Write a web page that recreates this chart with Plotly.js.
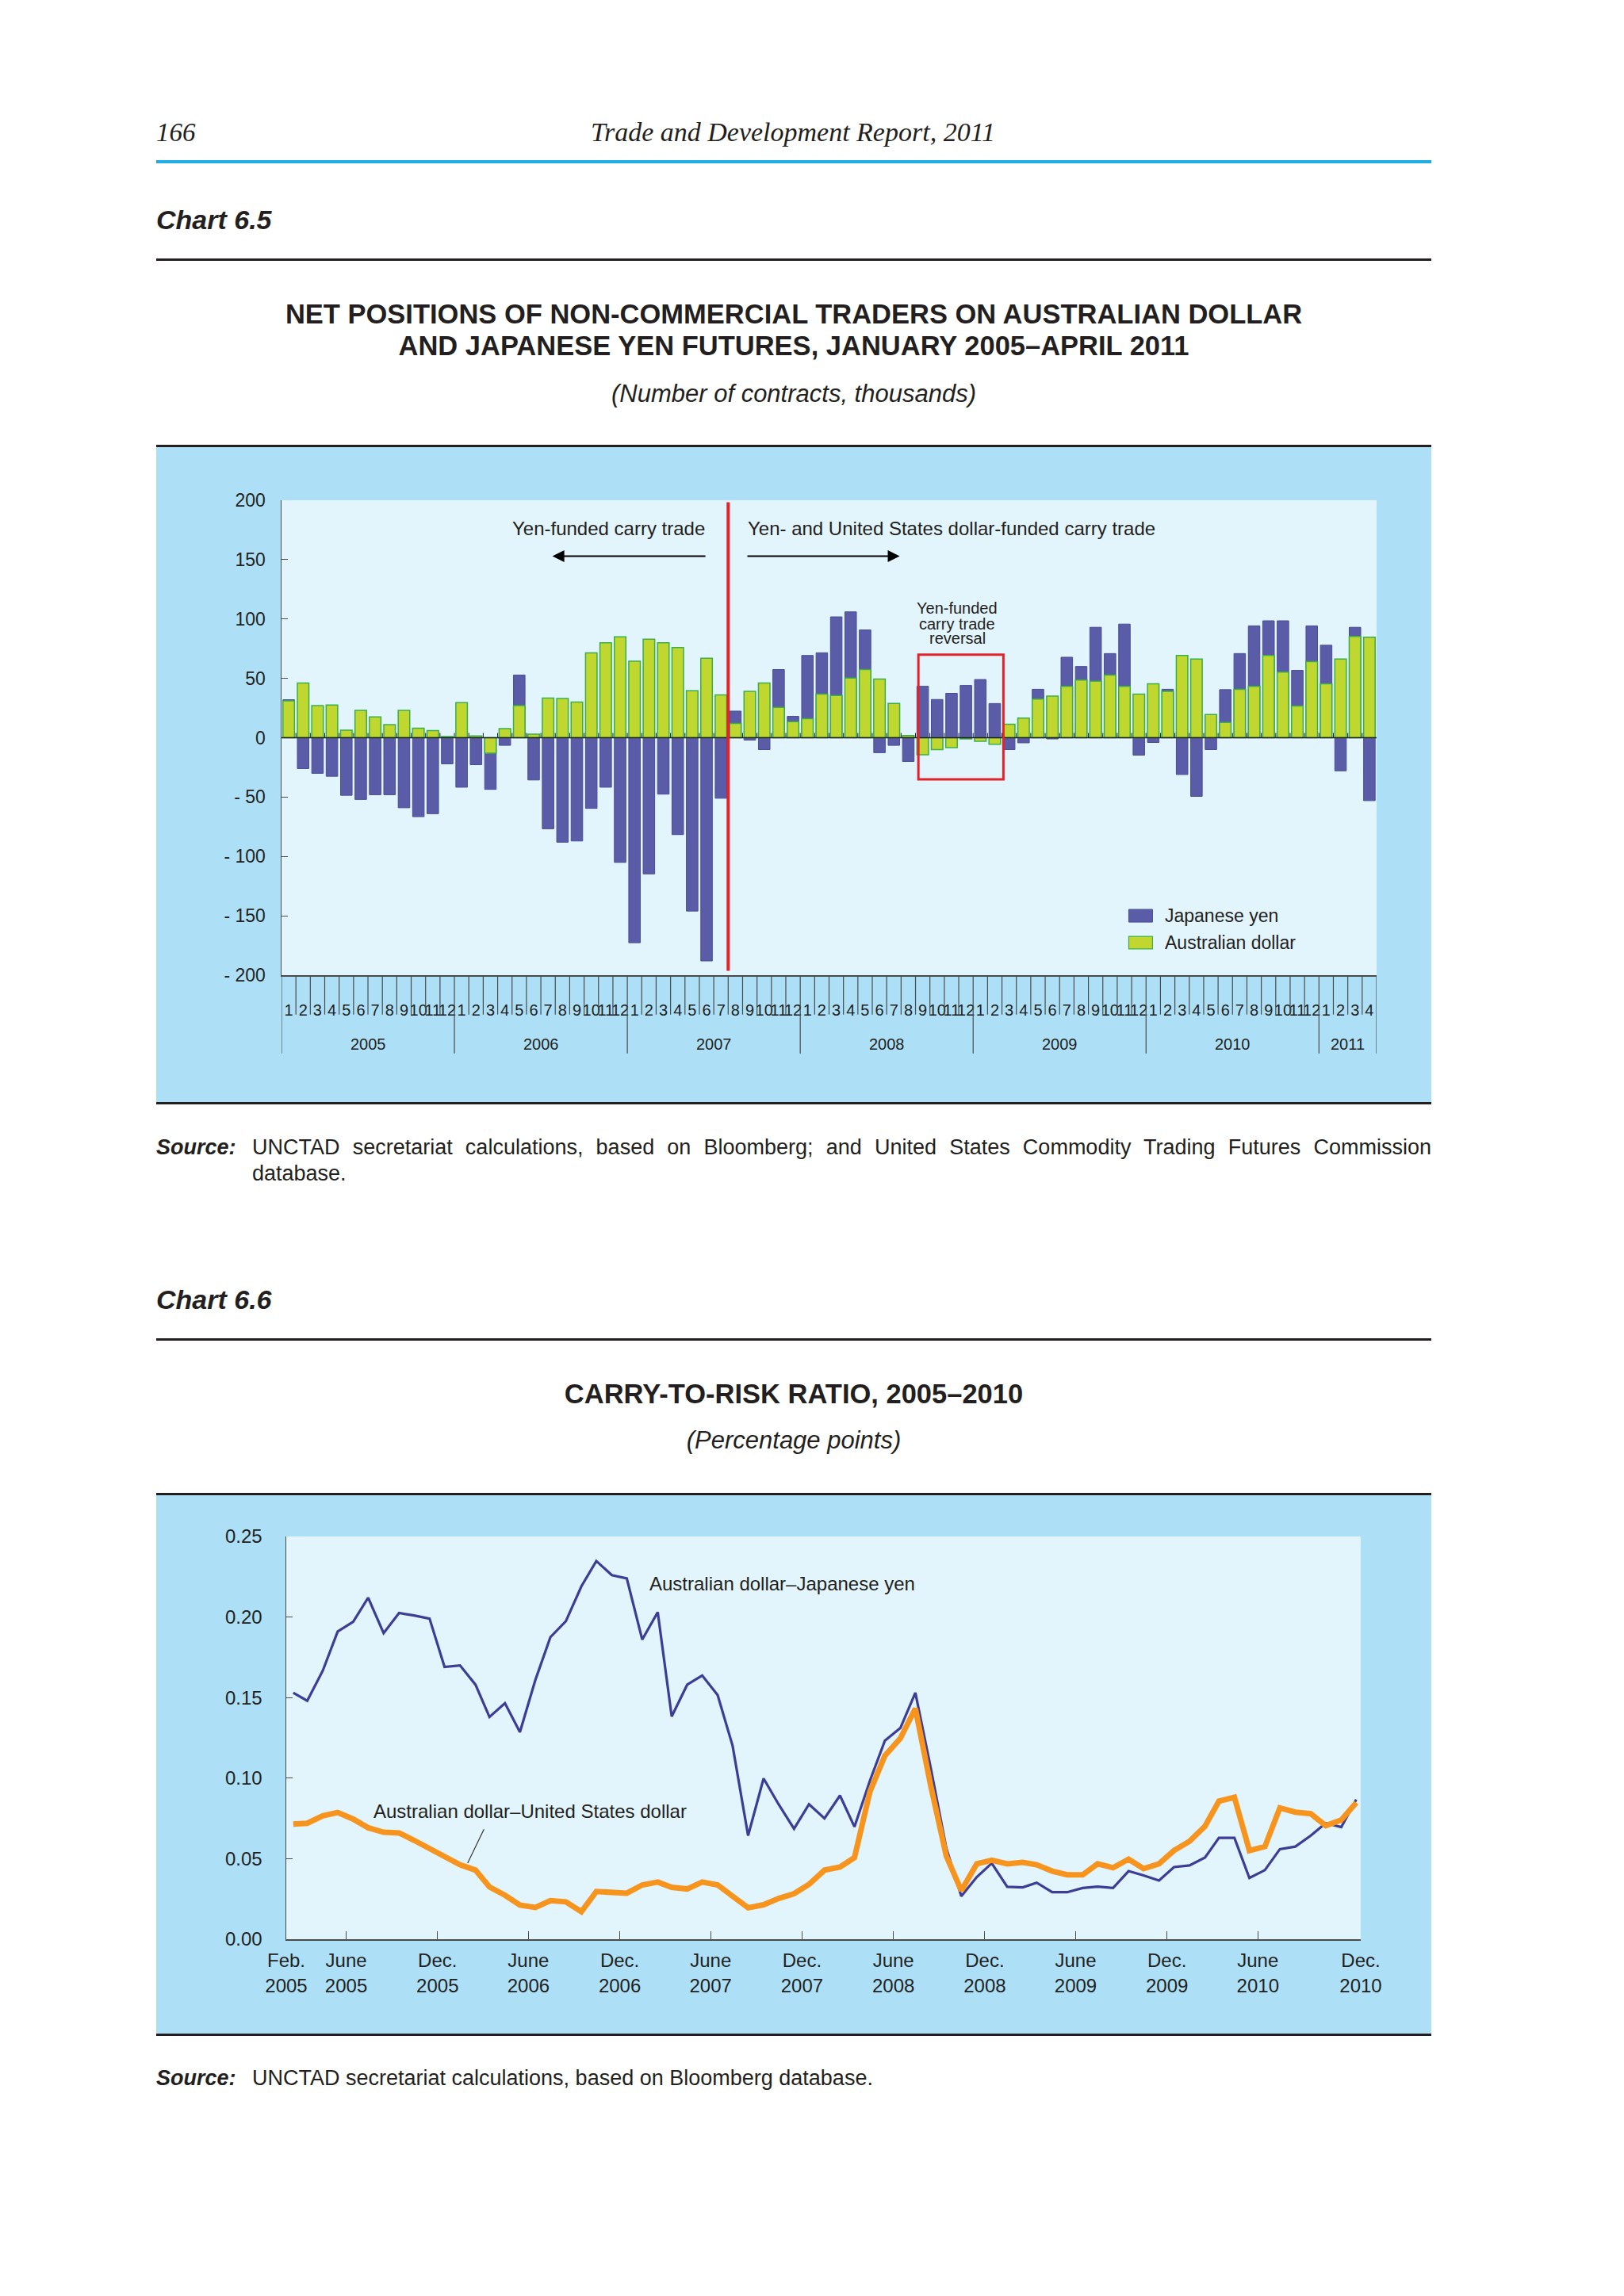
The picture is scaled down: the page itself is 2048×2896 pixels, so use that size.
<!DOCTYPE html>
<html><head><meta charset="utf-8">
<script src="https://cdn.plot.ly/plotly-3.0.1.min.js"></script>
<style>
html,body{margin:0;padding:0;}
body{background:#ffffff;width:2048px;height:2896px;position:relative;font-family:"Liberation Sans",Arial,sans-serif;color:#231f20;overflow:hidden;}
.t{position:absolute;white-space:nowrap;}
.rule{position:absolute;left:197px;width:1608px;background:#231f20;height:3px;}
.ctr{left:197px;width:1608px;text-align:center;}
.chart{position:absolute;left:197px;}
</style></head><body>

<div class="t" style="left:197px;top:147px;line-height:40px;font-family:'Liberation Serif',serif;font-style:italic;font-size:33px;">166</div>
<div class="t" style="left:700px;width:600px;text-align:center;top:147px;line-height:40px;font-family:'Liberation Serif',serif;font-style:italic;font-size:34px;">Trade and Development Report, 2011</div>
<div class="rule" style="top:202px;background:#1eaee4;height:4px;"></div>

<div class="t" style="left:197px;top:257px;line-height:40px;font-weight:bold;font-style:italic;font-size:34px;">Chart 6.5</div>
<div class="rule" style="top:326px;"></div>
<div class="t ctr" style="top:376px;line-height:40px;font-weight:bold;font-size:34.5px;">NET POSITIONS OF NON-COMMERCIAL TRADERS ON AUSTRALIAN DOLLAR<br>AND JAPANESE YEN FUTURES, JANUARY 2005–APRIL 2011</div>
<div class="t ctr" style="top:477px;line-height:40px;font-style:italic;font-size:31px;">(Number of contracts, thousands)</div>
<div class="rule" style="top:561px;"></div>
<div id="c1" class="chart" style="top:564px;width:1608px;height:826px;"></div>
<div class="rule" style="top:1390px;"></div>

<div class="t" style="left:197px;top:1430px;line-height:34px;font-weight:bold;font-style:italic;font-size:27px;">Source:</div>
<div class="t" style="left:318px;width:1487px;top:1430px;line-height:34px;font-size:27px;white-space:normal;text-align:justify;text-align-last:justify;">UNCTAD secretariat calculations, based on Bloomberg; and United States Commodity Trading Futures Commission</div>
<div class="t" style="left:318px;top:1463px;line-height:34px;font-size:27px;">database.</div>

<div class="t" style="left:197px;top:1619px;line-height:40px;font-weight:bold;font-style:italic;font-size:34px;">Chart 6.6</div>
<div class="rule" style="top:1688px;"></div>
<div class="t ctr" style="top:1738px;line-height:40px;font-weight:bold;font-size:34.5px;">CARRY-TO-RISK RATIO, 2005–2010</div>
<div class="t ctr" style="top:1797px;line-height:40px;font-style:italic;font-size:31px;">(Percentage points)</div>
<div class="rule" style="top:1883px;"></div>
<div id="c2" class="chart" style="top:1886px;width:1608px;height:680px;"></div>
<div class="rule" style="top:2565px;"></div>

<div class="t" style="left:197px;top:2604px;line-height:34px;font-weight:bold;font-style:italic;font-size:27px;">Source:</div>
<div class="t" style="left:318px;top:2604px;line-height:34px;font-size:27px;">UNCTAD secretariat calculations, based on Bloomberg database.</div>

<script>
// ---------- Chart 6.5 data (Jan 2005 – Apr 2011, thousands of contracts) ----------
const monthLabels = ['1','2','3','4','5','6','7','8','9','10','11','12'];
const barYears = ['2005','2006','2007','2008','2009','2010','2011'];
const yenPositions = [
  32, -26, -30, -32.5, -48.5, -52, -48, -48, -59, -66.5, -64, -22,
  -41.7, -22.7, -43.5, -6.4, 52.8, -35.6, -76.7, -88, -87, -59.5, -41.7, -105,
  -172.7, -114.7, -47.5, -81.6, -146, -188, -51, 22.4, -2, -10, 57.4, 18,
  69.3, 71.5, 101.8, 106, 90.8, -12.6, -6.4, -20, 43.3, 32.2, 37.4, 44,
  49, 28.8, -10, -4.3, 40.8, -1, 67.8, 60, 93, 70.9, 95.7, -14.7,
  -4, 40.8, -31, -49.4, -10, 40.5, 70.9, 94.2, 98.5, 98.5, 56.7, 94.2,
  77.9, -27.9, 93, -53
];
const audPositions = [
  31, 46, 27, 27.6, 6.4, 23, 17.5, 11, 23, 8, 6, 1,
  29.5, 1.5, -13, 7.7, 27, 3, 33.4, 33, 30, 71.5, 80, 85,
  64.4, 83, 80, 76, 39.6, 67, 36, 12, 39, 46, 25.5, 13.5,
  16, 36.8, 35.6, 50.3, 57.4, 49.4, 28.8, 1.8, -14.4, -10, -8.3, -1,
  -3, -5.5, 11.3, 16.6, 32.5, 35, 43.3, 48.5, 47.5, 52.8, 43.3, 36.8,
  45.4, 39, 69.3, 66.3, 19.6, 12.9, 40.8, 43.3, 69.3, 55.2, 26.7, 64.1,
  45.4, 66.3, 85.3, 84.7
];
const barYTickVals = [-200, -150, -100, -50, 0, 50, 100, 150, 200];
const barYTickText = ['- 200', '- 150', '- 100', '- 50', '0', '50', '100', '150', '200'];

// ---------- Chart 6.6 data (Feb 2005 – Dec 2010, monthly) ----------
const audJpy = [
  0.153, 0.148, 0.1666, 0.191, 0.197, 0.212, 0.190, 0.2025, 0.201, 0.199, 0.169,
  0.170, 0.158, 0.138, 0.1465, 0.1286, 0.161, 0.1875, 0.1974, 0.219, 0.2348, 0.226, 0.224,
  0.186, 0.203, 0.1383, 0.158, 0.1637, 0.1516, 0.120, 0.0643, 0.0998, 0.0838, 0.0686, 0.0838,
  0.075, 0.0892, 0.0698, 0.0984, 0.1233, 0.1311, 0.153, 0.106, 0.0565, 0.0267, 0.0386, 0.0472,
  0.0325, 0.0322, 0.0351, 0.0292, 0.0292, 0.0318, 0.0327, 0.0318, 0.0423, 0.0396, 0.0364, 0.0448,
  0.0458, 0.0507, 0.0629, 0.0629, 0.038, 0.0429, 0.0559, 0.0575, 0.0643, 0.0721, 0.0696, 0.0867
];
const audUsd = [
  0.0715, 0.072, 0.0766, 0.0787, 0.0746, 0.0692, 0.0664, 0.066, 0.0614, 0.0563, 0.052,
  0.0462, 0.0429, 0.0325, 0.0273, 0.0212, 0.0197, 0.024, 0.0232, 0.0171, 0.0296, 0.0288, 0.0286,
  0.0337, 0.0355, 0.0322, 0.0312, 0.0355, 0.0337, 0.0267, 0.0195, 0.0214, 0.0253, 0.0283, 0.0341,
  0.0429, 0.0448, 0.0507, 0.0916, 0.114, 0.1247, 0.1432, 0.095, 0.0516, 0.0302, 0.0468, 0.0491,
  0.0468, 0.0477, 0.0462, 0.0423, 0.04, 0.04, 0.0468, 0.0444, 0.0497, 0.0438, 0.0468, 0.0551,
  0.0608, 0.0701, 0.0857, 0.0881, 0.055, 0.0575, 0.0815, 0.0789, 0.0779, 0.0705, 0.074, 0.0848
];
const lineTickDates = ['2005-02-01','2005-06-01','2005-12-01','2006-06-01','2006-12-01','2007-06-01','2007-12-01','2008-06-01','2008-12-01','2009-06-01','2009-12-01','2010-06-01','2010-12-24'];
const lineTickText = ['Feb.<br>2005','June<br>2005','Dec.<br>2005','June<br>2006','Dec.<br>2006','June<br>2007','Dec.<br>2007','June<br>2008','Dec.<br>2008','June<br>2009','Dec.<br>2009','June<br>2010','Dec.<br>2010'];
const lineYTickVals = [0, 0.05, 0.10, 0.15, 0.20, 0.25];

// ---------- styles ----------
const FONT = 'Liberation Sans, Arial, sans-serif';
const INK = '#231f20';
const AXIS = '#4a4a4a';
const PANEL = '#ade0f7';
const PLOTBG = '#e2f4fc';
const YEN = '#5b5ca8';
const AUD = '#c0d730';
const AUD_EDGE = '#3aae49';
const RED = '#e4222a';

// ---------- Chart 6.5 ----------
const nBars = yenPositions.length;
const idx = yenPositions.map((_, i) => i);
const monthTickText = idx.map(i => monthLabels[i % 12]);

const shapes1 = [];
for (let k = -1; k < nBars; k++) {
  const xb = k + 0.5;
  const yearBound = (k === -1) || (k === nBars - 1) || ((k + 1) % 12 === 0);
  shapes1.push({type:'line', xref:'x', yref:'paper', x0:xb, x1:xb, y0:0, y1: yearBound ? -0.165 : -0.083,
                line:{color:AXIS, width:1.2}, layer:'above'});
  if (k >= 0 && k < nBars - 1) {
    shapes1.push({type:'line', xref:'x', yref:'y', x0:xb, x1:xb, y0:0, y1:4, line:{color:INK, width:1}});
  }
}
shapes1.push({type:'line', xref:'x', yref:'y', x0:-0.5, x1:nBars - 0.5, y0:0, y1:0, line:{color:INK, width:1.5}});
shapes1.push({type:'line', xref:'x', yref:'y', x0:30.5, x1:30.5, y0:-196.3, y1:198.3, line:{color:RED, width:4}});
shapes1.push({type:'rect', xref:'x', yref:'y', x0:43.7, x1:49.6, y0:-35, y1:70, line:{color:RED, width:3}});
shapes1.push({type:'rect', xref:'x', yref:'y', x0:58.3, x1:59.95, y0:-155.3, y1:-144.6, fillcolor:YEN, line:{color:'#4b4c96', width:1}});
shapes1.push({type:'rect', xref:'x', yref:'y', x0:58.3, x1:59.95, y0:-177.9, y1:-167.3, fillcolor:AUD, line:{color:AUD_EDGE, width:1.2}});

const ann1 = [
  {x:29.0, y:176, xref:'x', yref:'y', text:'Yen-funded carry trade', showarrow:false, xanchor:'right', yanchor:'middle', font:{size:24}},
  {x:18.3, y:153, ax:29.0, ay:153, xref:'x', yref:'y', axref:'x', ayref:'y', text:'', showarrow:true, arrowhead:2, arrowsize:1.5, arrowwidth:2, arrowcolor:'#000'},
  {x:31.75, y:176, xref:'x', yref:'y', text:'Yen- and United States dollar-funded carry trade', showarrow:false, xanchor:'left', yanchor:'middle', font:{size:24}},
  {x:42.4, y:153, ax:31.75, ay:153, xref:'x', yref:'y', axref:'x', ayref:'y', text:'', showarrow:true, arrowhead:2, arrowsize:1.5, arrowwidth:2, arrowcolor:'#000'},
  {x:46.4, y:109.5, xref:'x', yref:'y', text:'Yen-funded', showarrow:false, xanchor:'center', yanchor:'middle', font:{size:20}},
  {x:46.4, y:96, xref:'x', yref:'y', text:'carry trade', showarrow:false, xanchor:'center', yanchor:'middle', font:{size:20}},
  {x:46.4, y:83.5, xref:'x', yref:'y', text:'reversal', showarrow:false, xanchor:'center', yanchor:'middle', font:{size:20}},
  {x:60.7, y:-150, xref:'x', yref:'y', text:'Japanese yen', showarrow:false, xanchor:'left', yanchor:'middle', font:{size:23}},
  {x:60.7, y:-172.6, xref:'x', yref:'y', text:'Australian dollar', showarrow:false, xanchor:'left', yanchor:'middle', font:{size:23}}
];
barYears.forEach((yr, j) => {
  const start = 12 * j;
  const count = Math.min(12, nBars - start);
  ann1.push({x:start + (count - 1) / 2, y:-0.145, xref:'x', yref:'paper', text:yr, showarrow:false,
             xanchor:'center', yanchor:'middle', font:{size:20}});
});

Plotly.newPlot('c1', [
  {type:'bar', x:idx, y:yenPositions, name:'Japanese yen', width:0.8,
   marker:{color:YEN, line:{color:'#4b4c96', width:1}}},
  {type:'bar', x:idx, y:audPositions, name:'Australian dollar', width:0.8,
   marker:{color:AUD, line:{color:AUD_EDGE, width:1.5}}}
], {
  width:1608, height:826,
  paper_bgcolor:PANEL, plot_bgcolor:PLOTBG,
  margin:{l:158, r:69, t:67, b:160, pad:0},
  barmode:'overlay', showlegend:false,
  font:{family:FONT, color:INK},
  xaxis:{range:[-0.5, nBars - 0.5], tickmode:'array', tickvals:idx, ticktext:monthTickText,
         ticks:'', showline:true, linecolor:AXIS, linewidth:1.5, showgrid:false, zeroline:false,
         tickfont:{size:20}, ticklabelstandoff:25, tickangle:0, fixedrange:true},
  yaxis:{range:[-200, 200], tickmode:'array', tickvals:barYTickVals, ticktext:barYTickText,
         ticks:'inside', ticklen:8, tickwidth:1.2, tickcolor:AXIS, showline:true, linecolor:AXIS, linewidth:1.5,
         showgrid:false, zeroline:false, tickfont:{size:23}, ticklabelstandoff:14, fixedrange:true},
  shapes:shapes1, annotations:ann1
}, {displayModeBar:false, staticPlot:true});

// ---------- Chart 6.6 ----------
const lineMonths = [];
for (let y = 2005; y <= 2010; y++) {
  for (let m = 1; m <= 12; m++) {
    if (y === 2005 && m < 2) continue;
    lineMonths.push(y + '-' + String(m).padStart(2, '0') + '-15');
  }
}

Plotly.newPlot('c2', [
  {type:'scatter', mode:'lines', x:lineMonths, y:audJpy, name:'Australian dollar–Japanese yen',
   line:{color:'#3d3d96', width:3.2}},
  {type:'scatter', mode:'lines', x:lineMonths, y:audUsd, name:'Australian dollar–United States dollar',
   line:{color:'#f7941d', width:7}}
], {
  width:1608, height:680,
  paper_bgcolor:PANEL, plot_bgcolor:PLOTBG,
  margin:{l:164, r:89, t:52, b:120, pad:0},
  showlegend:false,
  font:{family:FONT, color:INK},
  xaxis:{type:'date', range:['2005-02-01', '2010-12-24'], tickmode:'array', tickvals:lineTickDates, ticktext:lineTickText,
         ticks:'inside', ticklen:10, tickwidth:1.2, tickcolor:AXIS, showline:true, linecolor:AXIS, linewidth:1.5,
         showgrid:false, zeroline:false, tickfont:{size:24}, ticklabelstandoff:5, tickangle:0, fixedrange:true},
  yaxis:{range:[0, 0.25], tickmode:'array', tickvals:lineYTickVals, tickformat:'.2f',
         ticks:'inside', ticklen:8, tickwidth:1.2, tickcolor:AXIS, showline:true, linecolor:AXIS, linewidth:1.5,
         showgrid:false, zeroline:false, tickfont:{size:24}, ticklabelstandoff:24, fixedrange:true},
  shapes:[
    {type:'line', xref:'paper', yref:'paper', x0:0.184, y0:0.273, x1:0.1688, y1:0.189, line:{color:'#333', width:1.2}}
  ],
  annotations:[
    {x:0.3365, y:0.883, xref:'paper', yref:'paper', text:'Australian dollar–Japanese yen', showarrow:false, xanchor:'left', yanchor:'middle', font:{size:24}},
    {x:0.0794, y:0.318, xref:'paper', yref:'paper', text:'Australian dollar–United States dollar', showarrow:false, xanchor:'left', yanchor:'middle', font:{size:24}}
  ]
}, {displayModeBar:false, staticPlot:true});
</script>
</body></html>
